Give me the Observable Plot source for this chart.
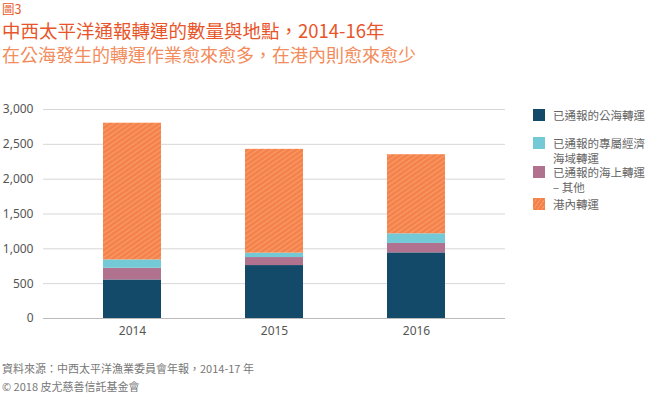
<!DOCTYPE html>
<html><head><meta charset="utf-8">
<script src="https://cdn.jsdelivr.net/npm/d3@7"></script>
<script src="https://cdn.jsdelivr.net/npm/@observablehq/plot@0.6"></script>
<style>
body{margin:0;background:#fff;width:650px;height:398px;position:relative;overflow:hidden;font-family:"Noto Sans CJK TC","Noto Sans",sans-serif;}
.abs{position:absolute;white-space:nowrap;}
#fig{left:2px;top:2px;font-size:12.5px;color:#e8582b;line-height:14px;}
#title{left:2px;top:19px;font-size:18.5px;color:#e8552a;line-height:22px;}
#sub{left:2px;top:43px;font-size:18px;color:#f28c5c;line-height:22px;}
#chart{left:0;top:90px;}
.leg{position:absolute;font-size:11.5px;color:#666;line-height:14.5px;white-space:nowrap;}
.sw{position:absolute;width:12px;height:12px;}
.foot{font-size:11px;color:#777;line-height:14px;}
</style></head><body>
<div id="fig" class="abs">圖3</div>
<div id="title" class="abs">中西太平洋通報轉運的數量與地點，2014-16年</div>
<div id="sub" class="abs">在公海發生的轉運作業愈來愈多，在港內則愈來愈少</div>
<div id="chart" class="abs"></div>
<div id="legend"></div>
<div class="abs foot" style="left:2px;top:361px;">資料來源：中西太平洋漁業委員會年報，2014-17 年</div>
<div class="abs foot" style="left:2px;top:379px;">© 2018 皮尤慈善信託基金會</div>
<script>
const years = ["2014", "2015", "2016"];
const seriesNames = ["已通報的公海轉運", "已通報的海上轉運－其他", "已通報的專屬經濟海域轉運", "港內轉運"];
const highSeas = [553, 760, 942];
const otherAtSea = [168, 115, 135];
const eez = [120, 63, 139];
const inPort = [1962, 1490, 1135];
const yTicks = [0, 500, 1000, 1500, 2000, 2500, 3000];
const colors = ["#134a6a", "#b0728f", "#74c9d6", "url(#hatch)"];

const seriesValues = [highSeas, otherAtSea, eez, inPort];
const rows = [];
years.forEach((y, i) => seriesNames.forEach((s, k) => rows.push({year: y, series: s, value: seriesValues[k][i]})));

const plot = Plot.plot({
  width: 650, height: 255,
  marginLeft: 43, marginRight: 145, marginTop: 19, marginBottom: 27,
  style: {fontFamily: "'Noto Sans', sans-serif", fontSize: "12px", color: "#555", background: "transparent"},
  x: {domain: years, paddingInner: 0.59, paddingOuter: 0.42, label: null, tickSize: 0, tickPadding: 8},
  y: {domain: [0, 3000], ticks: yTicks, label: null, tickSize: 0, tickPadding: 10, tickFormat: d3.format(",")},
  color: {domain: seriesNames, range: colors},
  marks: [
    Plot.gridY(yTicks, {stroke: "#d6d6d6", strokeOpacity: 1, strokeWidth: 1}),
    Plot.barY(rows, {x: "year", y: "value", fill: "series", order: seriesNames}),
    Plot.ruleY([0], {stroke: "#bbb"})
  ]
});
const defs = d3.select(plot).insert("defs", ":first-child");
const pat = defs.append("pattern").attr("id", "hatch").attr("patternUnits", "userSpaceOnUse")
  .attr("width", 4).attr("height", 4).attr("patternTransform", "rotate(-35)");
pat.append("rect").attr("width", 4).attr("height", 4).attr("fill", "#f5814a");
pat.append("rect").attr("width", 4).attr("height", 1.3).attr("fill", "#f89a68");
document.getElementById("chart").appendChild(plot);

const legendItems = [
  {lines: ["已通報的公海轉運"], color: colors[0], top: 108},
  {lines: ["已通報的專屬經濟", "海域轉運"], color: colors[2], top: 136},
  {lines: ["已通報的海上轉運", "– 其他"], color: colors[1], top: 165},
  {lines: ["港內轉運"], color: colors[3], top: 197}
];
const leg = document.getElementById("legend");
legendItems.forEach(it => {
  const sw = document.createElement("div");
  sw.className = "sw";
  sw.style.left = "533px"; sw.style.top = (it.top + 1) + "px";
  if (it.color.startsWith("url")) {
    sw.style.background = "repeating-linear-gradient(-55deg,#f5814a 0 2.5px,#f89a68 2.5px 3.5px)";
  } else sw.style.background = it.color;
  leg.appendChild(sw);
  it.lines.forEach((line, j) => {
    const t = document.createElement("div");
    t.className = "leg";
    t.style.left = "553px"; t.style.top = (it.top + j * 14.5) + "px";
    t.textContent = line;
    leg.appendChild(t);
  });
});
</script>
</body></html>
